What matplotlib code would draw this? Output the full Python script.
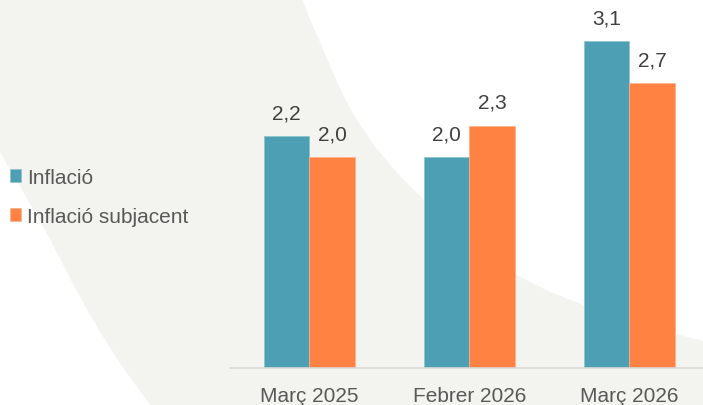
import matplotlib.pyplot as plt
import numpy as np
from matplotlib.patches import Polygon

plt.rcParams['font.family'] = ['Liberation Sans', 'DejaVu Sans']

# data
categories = ["Març 2025", "Febrer 2026", "Març 2026"]
series_names = ["Inflació", "Inflació subjacent"]
inflacio = [2.2, 2.0, 3.1]
subjacent = [2.0, 2.3, 2.7]

teal = "#4da0b3"
orange = "#ff8243"

W, H = 703, 406
fig = plt.figure(figsize=(W / 100, H / 100), dpi=100)
fig.patch.set_facecolor("white")

# decorative background band (pixel coords, origin top-left)
band = [(0, 0), (302, 0), (312, 25), (323, 50), (334, 76), (345, 100),
        (360, 126), (377, 150), (399, 176), (423, 200), (446, 222),
        (470, 242), (492, 260), (515, 275), (548, 292), (583, 306),
        (616, 318), (650, 328), (676, 335), (703, 342),
        (703, 406), (150, 406), (124, 370), (100, 333), (75, 289),
        (50, 240), (25, 196), (0, 153)]
band = [(x / W, 1 - y / H) for x, y in band]
fig.patches.append(Polygon(band, closed=True, transform=fig.transFigure,
                           facecolor="#f3f4f0", edgecolor="none", zorder=-10))

ax = fig.add_axes([230 / W, (H - 369) / H, 1 - 230 / W, 369 / H])
ax.set_zorder(1)
ax.patch.set_alpha(0)

x = np.arange(len(categories))
w = 0.285
b1 = ax.bar(x - w / 2, inflacio, w, color=teal, label=series_names[0],
            edgecolor="#8cc3cf", linewidth=0.5)
b2 = ax.bar(x + w / 2, subjacent, w, color=orange, label=series_names[1],
            edgecolor="#ffb08a", linewidth=0.5)

for bars in (b1, b2):
    for rect in bars:
        v = rect.get_height()
        ax.annotate(f"{v:.1f}".replace(".", ","),
                    (rect.get_x() + rect.get_width() / 2, v),
                    textcoords="offset points", xytext=(0, 10),
                    ha="center", va="bottom", fontsize=15, color="#404040")

ax.set_xlim(-0.497, 2.46)
ax.set_ylim(0, 3.5)
ax.set_xticks(x)
ax.set_xticklabels(categories, fontsize=15, color="#595959")
ax.tick_params(axis="x", length=0, pad=13)
ax.set_yticks([])
for s in ("top", "right", "left"):
    ax.spines[s].set_visible(False)
ax.spines["bottom"].set_color("#d9d9d9")
ax.spines["bottom"].set_linewidth(1.2)

leg = fig.legend(handles=[b1, b2], loc="center left",
                 bbox_to_anchor=(10 / W, 1 - 198 / H), frameon=False,
                 fontsize=15, labelcolor="#595959", handlelength=0.55,
                 handleheight=0.55, handletextpad=0.25, labelspacing=0.95,
                 borderpad=0, borderaxespad=0)
leg.set_zorder(2)

fig.savefig("out.png", dpi=100)
